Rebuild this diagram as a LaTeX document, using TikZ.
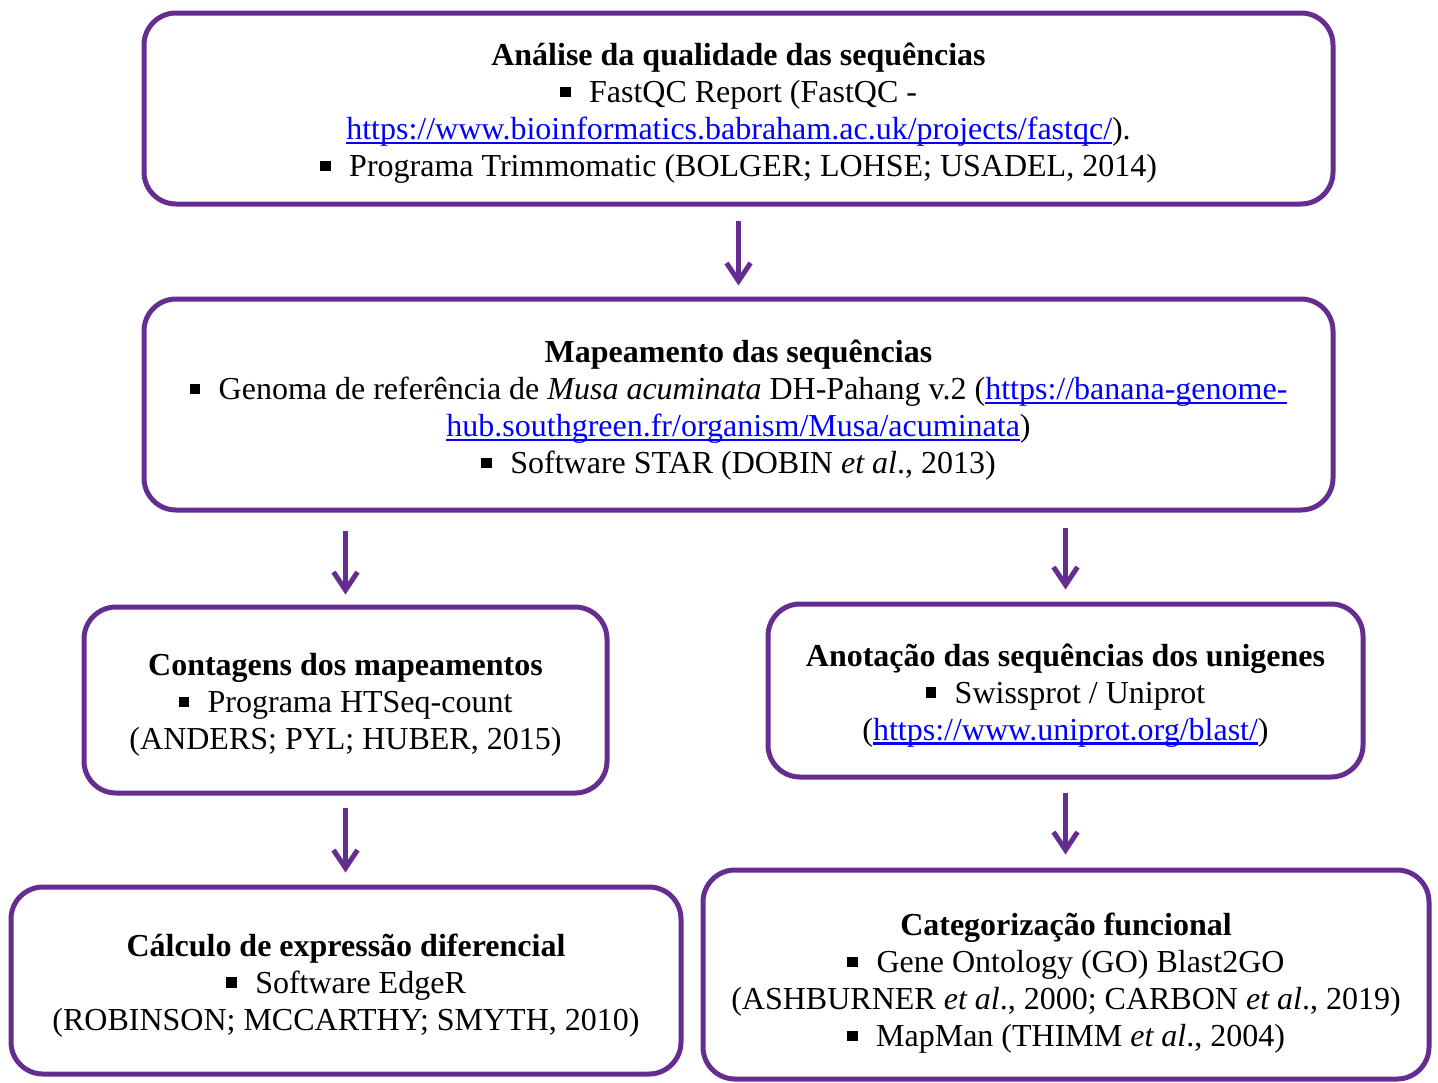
\documentclass[tikz,border=0pt]{standalone}
\usepackage{fontspec}
\setmainfont{Liberation Serif}
\usetikzlibrary{arrows.meta}
\definecolor{pur}{HTML}{662D91}
\definecolor{lnkc}{HTML}{0000FF}
\newcommand{\bul}{\rule[0.17em]{0.33em}{0.33em}\hspace{0.58em}}
\newcommand{\lnk}[1]{\textcolor{lnkc}{\setbox0\hbox{#1}\rlap{\rule[-0.13em]{\wd0}{0.065em}}\box0}}
\begin{document}
\begin{tikzpicture}[x=0.5pt,y=-0.5pt,
  box/.style={draw=pur, line width=2.5pt, rounded corners=16pt, inner sep=0pt},
  txt/.style={align=center, inner sep=0pt, font=\fontsize{16}{18.5}\selectfont},
  arr/.style={draw=pur, line width=2.5pt, -{Straight Barb[length=9pt,width=12pt]}}]
\useasboundingbox (0,0) rectangle (1438,1082);

\node[box, minimum width=594.5pt, minimum height=95.5pt] (b1) at (738.5,108.5) {};
\node[box, minimum width=594.5pt, minimum height=105.5pt] (b2) at (738.5,404.5) {};
\node[box, minimum width=261.5pt, minimum height=93pt] (b3) at (345.5,700) {};
\node[box, minimum width=297.5pt, minimum height=86.5pt] (b4) at (1065.5,690.5) {};
\node[box, minimum width=335pt, minimum height=93.5pt] (b5) at (346,980.5) {};
\node[box, minimum width=363pt, minimum height=104.5pt] (b6) at (1066,974.5) {};

\node[txt, yshift=-2.5pt] (t1) at (b1.center)
  {\textbf{Análise da qualidade das sequências}\\
   \bul FastQC Report (FastQC -\\
   \lnk{https://www.bioinformatics.babraham.ac.uk/projects/fastqc/}).\\
   \bul Programa Trimmomatic (BOLGER; LOHSE; USADEL, 2014)};

\node[txt, yshift=-3pt] (t2) at (b2.center)
  {\textbf{Mapeamento das sequências}\\
   \bul Genoma de referência de \textit{Musa acuminata} DH-Pahang v.2 (\lnk{https://banana-genome-}\\
   \lnk{hub.southgreen.fr/organism/Musa/acuminata})\\
   \bul Software STAR (DOBIN \textit{et al}., 2013)};

\node[txt, yshift=-2.5pt] (t3) at (b3.center)
  {\textbf{Contagens dos mapeamentos}\\
   \bul Programa HTSeq-count\\
   (ANDERS; PYL; HUBER, 2015)};

\node[txt, yshift=-2.5pt] (t4) at (b4.center)
  {\textbf{Anotação das sequências dos unigenes}\\
   \bul Swissprot / Uniprot\\
   (\lnk{https://www.uniprot.org/blast/})};

\node[txt, yshift=-2.5pt] (t5) at (b5.center)
  {\textbf{Cálculo de expressão diferencial}\\
   \bul Software EdgeR\\
   (ROBINSON; MCCARTHY; SMYTH, 2010)};

\node[txt, yshift=-4.5pt] (t6) at (b6.center)
  {\textbf{Categorização funcional}\\
   \bul Gene Ontology (GO) Blast2GO\\
   (ASHBURNER \textit{et al}., 2000; CARBON \textit{et al}., 2019)\\
   \bul MapMan (THIMM \textit{et al}., 2004)};

\draw[arr, shorten <=7pt, shorten >=5.5pt] (b1.south) -- (b2.north);
\draw[arr, shorten <=9pt, shorten >=5pt] (b2.south -| b3.north) -- (b3.north);
\draw[arr, shorten <=7.5pt, shorten >=6pt] (b2.south -| b4.north) -- (b4.north);
\draw[arr, shorten <=6pt, shorten >=6pt] (b3.south) -- (b3.south |- b5.north);
\draw[arr, shorten <=6.5pt, shorten >=6.5pt] (b4.south) -- (b4.south |- b6.north);
\end{tikzpicture}
\end{document}
